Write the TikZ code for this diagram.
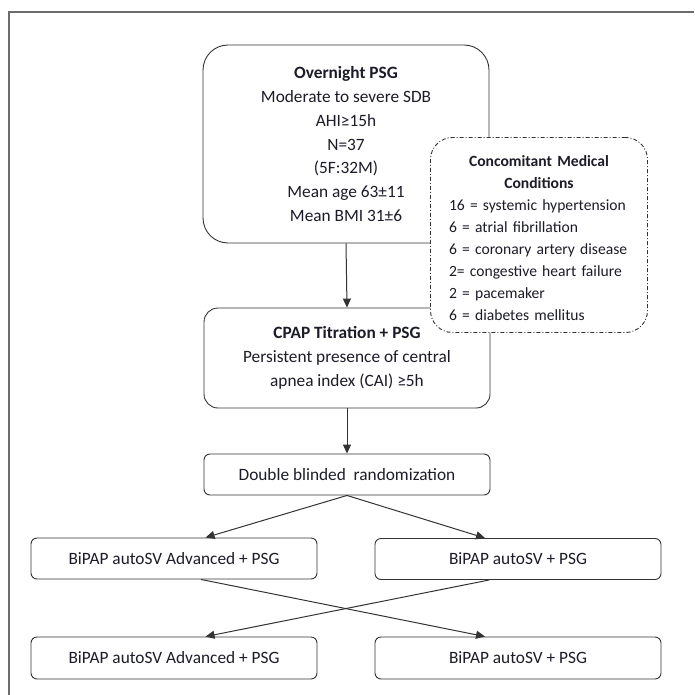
\documentclass[tikz,border=0pt]{standalone}
\usepackage{fontspec}
\setmainfont{Carlito}
\usetikzlibrary{arrows.meta,calc}
\definecolor{ink}{HTML}{1C1C28}
\definecolor{edge}{HTML}{333333}
\begin{document}
\begin{tikzpicture}[x=1pt,y=-1pt,
  box/.style={draw=edge,line width=0.9pt,fill=white,rounded corners=#1,inner sep=0pt,text=ink,align=center},
  box/.default=6pt,
  arr/.style={draw=edge,line width=1pt,-{Triangle[length=9pt,width=8pt]}},
  txt/.style={font=\fontsize{17.3}{23.8}\selectfont},
  stxt/.style={font=\fontsize{15.6}{22}\selectfont}]
\useasboundingbox (0,0) rectangle (694,695);
\draw[color=gray!85!black,line width=1.4pt] (9,695) -- (9,12) -- (694,12);
% main boxes
\node[box=25pt,minimum width=286pt,minimum height=198pt,txt] (psg) at (346,144)
 {\textbf{Overnight PSG}\\Moderate to severe SDB\\AHI≥15h\\N=37\\(5F:32M)\\Mean age 63±11\\Mean BMI 31±6};
\node[box=14pt,minimum width=286pt,minimum height=100pt,txt] (cpap) at (347,358)
 {\textbf{CPAP Titration + PSG}\\Persistent presence of central\\apnea index (CAI) ≥5h};
\node[box=22pt,dash pattern=on 4pt off 2pt on 1pt off 2pt,minimum width=217pt,minimum height=195pt] (conc) at (539,235) {};
\node[stxt,text width=180pt,text=ink,inner sep=0pt] (conct) at (539,238)
 {{\centering\bfseries Concomitant Medical\\Conditions\par}\raggedright
  16 = systemic hypertension\\6 = atrial fibrillation\\6 = coronary artery disease\\2= congestive heart failure\\2 = pacemaker\\6 = diabetes mellitus\par};
\node[box=6pt,minimum width=286pt,minimum height=41pt,txt] (rand) at (347,474.5) {Double blinded\ \ randomization};
\node[box=6pt,minimum width=286pt,minimum height=41pt,txt] (tl) at (174,558.5) {BiPAP autoSV Advanced + PSG};
\node[box=6pt,minimum width=286pt,minimum height=41pt,txt] (tr) at (518,559) {BiPAP autoSV + PSG};
\node[box=6pt,minimum width=286pt,minimum height=42pt,txt] (bl) at (174,658) {BiPAP autoSV Advanced + PSG};
\node[box=6pt,minimum width=286pt,minimum height=42pt,txt] (br) at (518,658) {BiPAP autoSV + PSG};
% connectors
\draw[arr] (psg.south) -- (cpap.north);
\draw[arr] (cpap.south) -- (rand.north);
\draw[arr] (rand.south) -- ($(tl.north west)!0.61!(tl.north east)$);
\draw[arr] (rand.south) -- ($(tr.north west)!0.385!(tr.north east)$);
\draw[arr] ($(tl.south west)!0.594!(tl.south east)$) -- ($(br.north west)!0.385!(br.north east)$);
\draw[arr] ($(tr.south west)!0.40!(tr.south east)$) -- ($(bl.north west)!0.61!(bl.north east)$);
\end{tikzpicture}
\end{document}
